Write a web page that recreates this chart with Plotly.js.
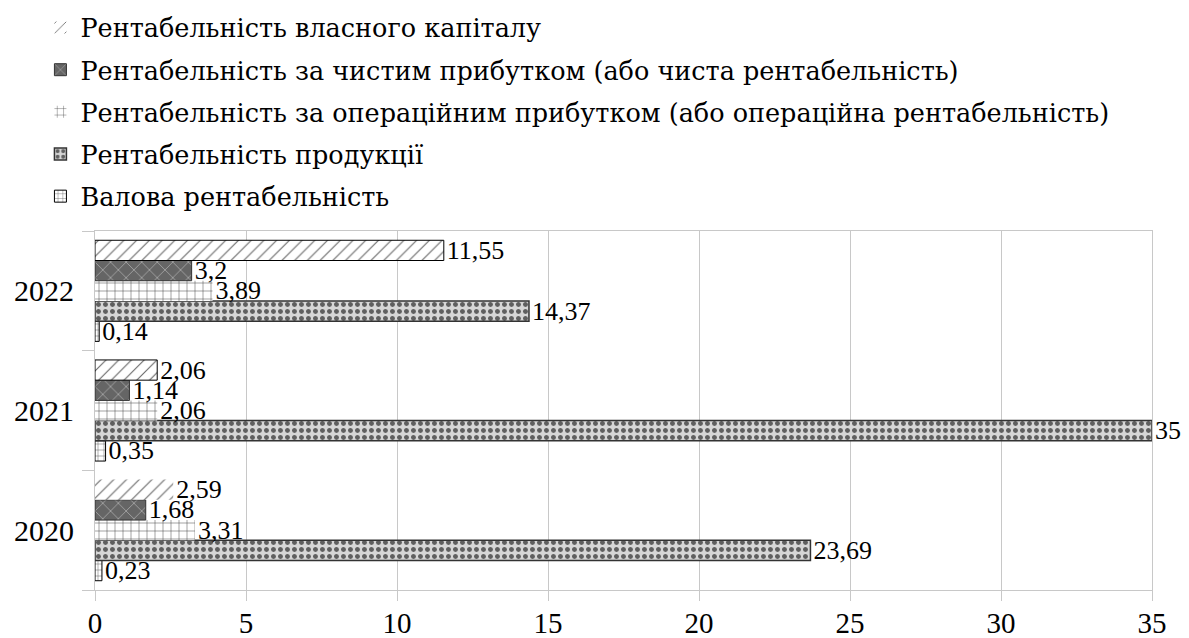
<!DOCTYPE html>
<html>
<head>
<meta charset="utf-8">
<script src="https://cdn.plot.ly/plotly-3.0.1.min.js"></script>
<style>html,body{margin:0;padding:0;background:#fff;}#chart{width:1189px;height:638px;}</style>
</head>
<body>
<div id="chart"></div>
<script>
const categories = ['2020', '2021', '2022'];
const grossMargin = [0.23, 0.35, 0.14];
const productReturn = [23.69, 35, 14.37];
const operatingReturn = [3.31, 2.06, 3.89];
const netReturn = [1.68, 1.14, 3.2];
const equityReturn = [2.59, 2.06, 11.55];
const seriesNames = [
  'Рентабельність власного капіталу',
  'Рентабельність за чистим прибутком (або чиста рентабельність)',
  'Рентабельність за операційним прибутком (або операційна рентабельність)',
  'Рентабельність продукції',
  'Валова рентабельність'
];
const xTicks = [0, 5, 10, 15, 20, 25, 30, 35];

const FONT = 'Liberation Serif';
const LEGEND_FONT = 'DejaVu Serif';
const fmt = arr => arr.map(v => String(v).replace('.', ','));

function mk(name, values, pattern, line, group, rank) {
  return {
    type: 'bar', orientation: 'h', name: name,
    y: categories, x: values,
    text: fmt(values), textposition: 'outside', cliponaxis: false,
    constraintext: 'none',
    textfont: {family: FONT, size: 26, color: '#000'},
    marker: {pattern: pattern, line: line},
    legendgroup: group, legendrank: rank,
    hoverinfo: 'skip'
  };
}

const traces = [
  mk(seriesNames[4], grossMargin,
     {shape: '+', bgcolor: '#ffffff', fgcolor: '#555', size: 6, solidity: 0.15, fillmode: 'replace'},
     {color: '#000', width: 1}, 'e', 5),
  mk(seriesNames[3], productReturn,
     {shape: '.', bgcolor: '#d6d6d6', fgcolor: '#5f5f5f', size: 7, solidity: 0.4, fillmode: 'replace'},
     {color: '#333', width: 1.5}, 'd', 4),
  mk(seriesNames[2], operatingReturn,
     {shape: '+', bgcolor: '#ffffff', fgcolor: '#444', size: 8, solidity: 0.12, fillmode: 'replace'},
     {color: '#fff', width: 0}, 'c', 3),
  mk(seriesNames[1], netReturn,
     {shape: 'x', bgcolor: '#656565', fgcolor: '#b8b8b8', size: 11, solidity: 0.12, fillmode: 'replace'},
     {color: '#333', width: 1}, 'b', 2),
  mk(seriesNames[0], equityReturn,
     {shape: '/', bgcolor: '#ffffff', fgcolor: '#666', size: 9, solidity: 0.12, fillmode: 'replace'},
     {color: '#000', width: [0, 1, 1]}, 'a', 1)
];

const layout = {
  width: 1189, height: 638,
  paper_bgcolor: '#fff', plot_bgcolor: '#fff',
  font: {family: FONT, color: '#000', size: 26},
  margin: {l: 95, r: 37, t: 231, b: 48, pad: 0, autoexpand: false},
  barmode: 'group', bargap: 0.155, bargroupgap: 0,
  showlegend: true,
  legend: {
    xref: 'container', yref: 'container',
    x: 0.034, y: 0.993, xanchor: 'left', yanchor: 'top',
    traceorder: 'grouped', tracegroupgap: 6,
    font: {family: LEGEND_FONT, size: 25.5, color: '#000'},
    bgcolor: 'rgba(0,0,0,0)', borderwidth: 0
  },
  xaxis: {
    range: [0, 35], tickvals: xTicks, ticktext: xTicks.map(String),
    showgrid: true, gridcolor: '#c8c8c8', gridwidth: 1,
    zeroline: false, showline: true, linecolor: '#c8c8c8', linewidth: 1,
    mirror: true,
    ticks: 'outside', ticklen: 10, tickcolor: '#c8c8c8', tickwidth: 1,
    ticklabelstandoff: -3,
    tickfont: {family: FONT, size: 29, color: '#000'}
  },
  yaxis: {
    type: 'category', categoryorder: 'array', categoryarray: categories,
    tickson: 'boundaries', ticks: 'outside', ticklen: 12, tickcolor: '#c8c8c8', tickwidth: 1,
    showline: true, linecolor: '#c8c8c8', linewidth: 1, mirror: true,
    showgrid: false, zeroline: false,
    ticklabelstandoff: 14,
    tickfont: {family: FONT, size: 30, color: '#000'}
  }
};

Plotly.newPlot('chart', traces, layout, {staticPlot: true, displayModeBar: false});
</script>
</body>
</html>
